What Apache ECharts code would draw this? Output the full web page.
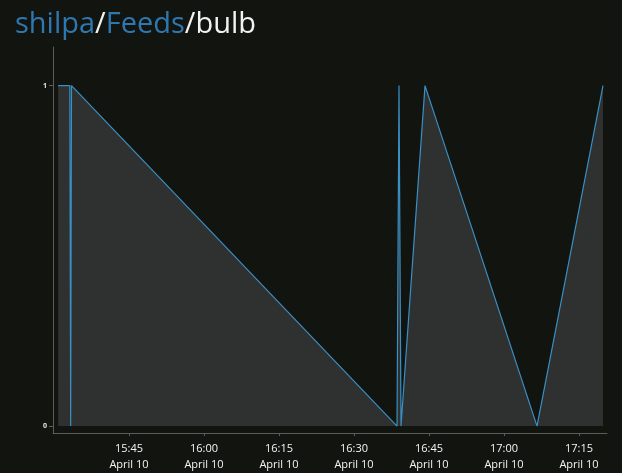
<!DOCTYPE html>
<html>
<head>
<meta charset="utf-8">
<script src="https://cdn.jsdelivr.net/npm/echarts@6/dist/echarts.min.js"></script>
<style>
html,body{margin:0;padding:0;background:#121410;}
#c{width:622px;height:473px;}
</style>
</head>
<body>
<div id="c"></div>
<script>
var times = ["2024-04-10 15:30:50","2024-04-10 15:33:10","2024-04-10 15:33:20","2024-04-10 15:33:30","2024-04-10 16:38:36","2024-04-10 16:39:00","2024-04-10 16:39:24","2024-04-10 16:44:12","2024-04-10 17:06:36","2024-04-10 17:19:48"];
var values = [1,1,0,1,0,1,0,1,0,1];
var tickTimes = ["2024-04-10 15:45","2024-04-10 16:00","2024-04-10 16:15","2024-04-10 16:30","2024-04-10 16:45","2024-04-10 17:00","2024-04-10 17:15"];
var tickDateLabel = "April 10";
var yTicks = [0,1];
var titleParts = ["shilpa","/","Feeds","/bulb"];

function ts(s){ return new Date(s.replace(' ','T')).getTime(); }
var data = times.map(function(t,i){ return [ts(t), values[i]]; });
var tickVals = tickTimes.map(ts);
function pad(n){ return (n<10?'0':'')+n; }

var chart = echarts.init(document.getElementById('c'), null, {renderer:'canvas'});
chart.setOption({
  backgroundColor:'#121410',
  animation:false,
  title:{
    left:10, top:5,
    text:'{b|'+titleParts[0]+'}{w|'+titleParts[1]+'}{b|'+titleParts[2]+'}{w|'+titleParts[3]+'}',
    textStyle:{
      fontFamily:'Open Sans', fontSize:29, fontWeight:'normal',
      rich:{
        b:{color:'#2f77b0', fontFamily:'Open Sans', fontSize:29, fontWeight:'normal'},
        w:{color:'#f2f2f2', fontFamily:'Open Sans', fontSize:29, fontWeight:'normal'}
      }
    }
  },
  grid:{left:53, top:47, right:15, bottom:36, containLabel:false},
  xAxis:{
    type:'value',
    min:ts("2024-04-10 15:29:48"),
    max:ts("2024-04-10 17:20:36"),
    splitLine:{show:false},
    axisLine:{show:true, onZero:false, lineStyle:{color:'#5a5c58', width:1}},
    axisTick:{show:true, customValues:tickVals, length:3, lineStyle:{color:'#5a5c58'}},
    axisLabel:{
      customValues:tickVals,
      color:'#f4f4f4', fontFamily:'Open Sans', fontSize:11, lineHeight:16, margin:8,
      formatter:function(v){ var d=new Date(v); return pad(d.getHours())+':'+pad(d.getMinutes())+'\n'+tickDateLabel; }
    }
  },
  yAxis:{
    type:'value',
    min:-0.0203, max:1.1134,
    splitLine:{show:false},
    axisLine:{show:true, onZero:false, lineStyle:{color:'#5a5c58', width:1}},
    axisTick:{show:true, customValues:yTicks, length:4, lineStyle:{color:'#5a5c58'}},
    axisLabel:{customValues:yTicks, color:'#e8e4e4', fontFamily:'Open Sans', fontSize:7, margin:6, fontWeight:'bold'}
  },
  series:[{
    type:'line',
    data:data,
    symbol:'none',
    lineStyle:{color:'#3a8fc4', width:1.2},
    areaStyle:{color:'#2f3030', opacity:1},
    itemStyle:{color:'#3a8fc4'}
  }]
});
</script>
</body>
</html>
